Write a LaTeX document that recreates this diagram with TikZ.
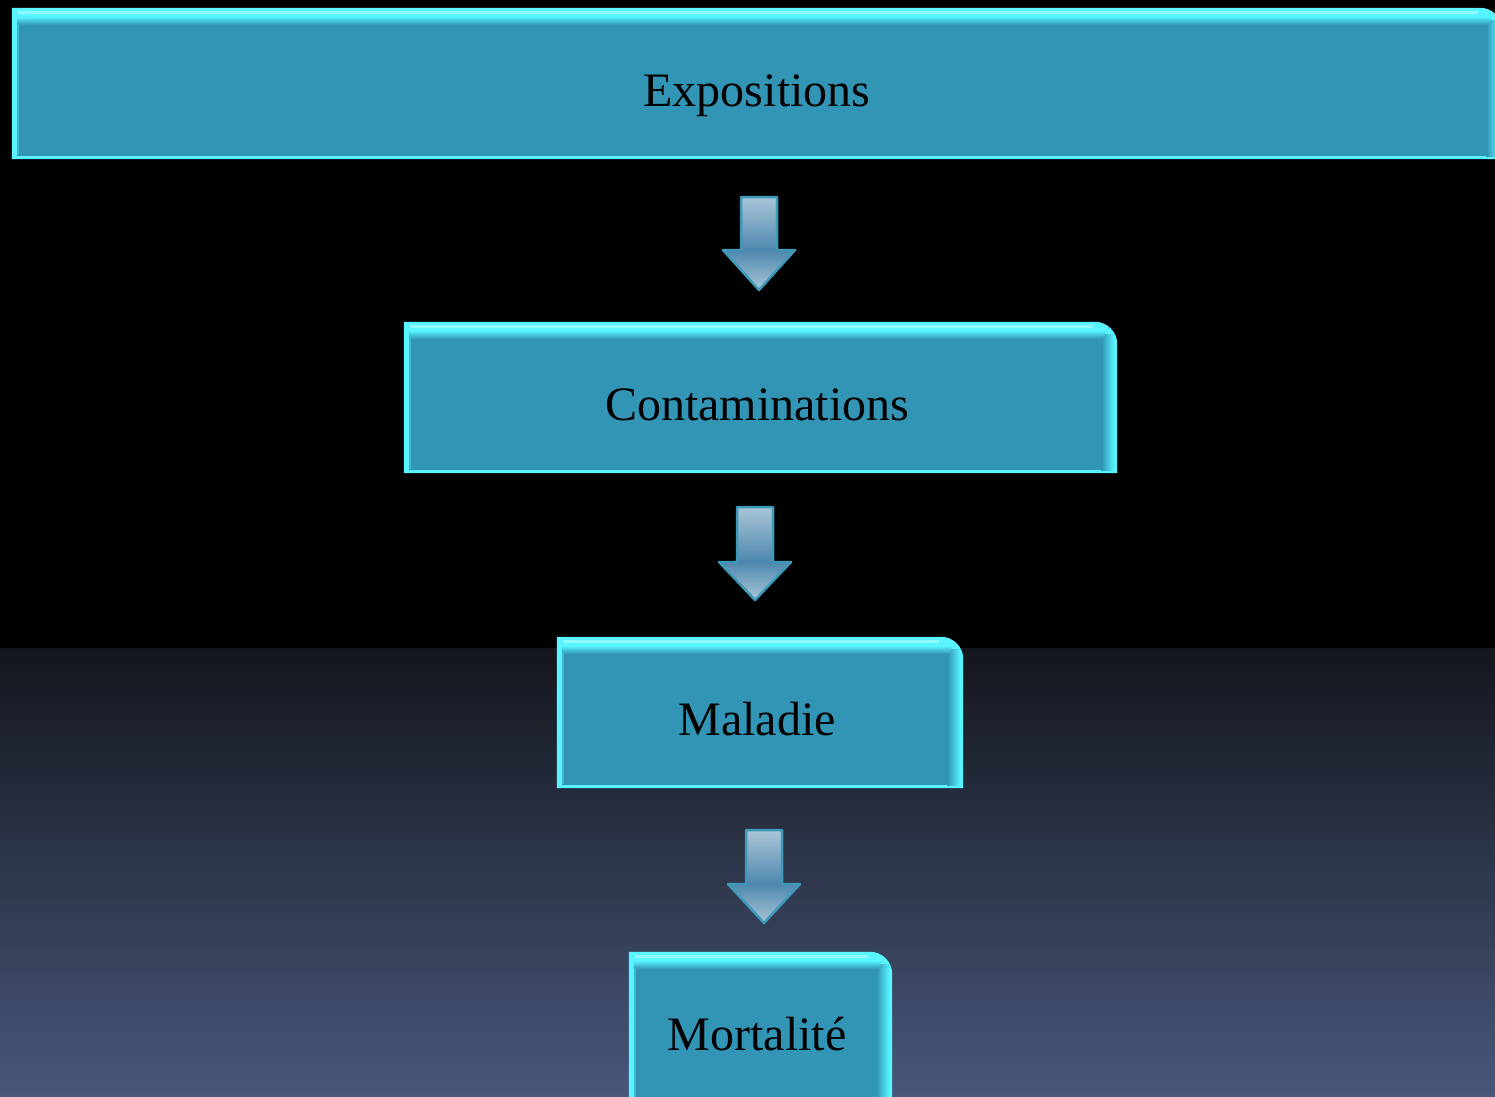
\documentclass[tikz,border=0pt]{standalone}
\usepackage{fontspec}
\setmainfont{Liberation Serif}
\definecolor{edgecyan}{HTML}{58F4FF}
\definecolor{hilite}{HTML}{A8FCFF}
\definecolor{bevelcyan}{HTML}{3FB6D4}
\definecolor{face}{HTML}{3295B5}
\definecolor{bgbottom}{HTML}{48577A}
\definecolor{bgtop}{HTML}{14161D}
\definecolor{arrowlight}{HTML}{A9C6D8}
\definecolor{arrowdark}{HTML}{4E88AE}
\definecolor{arrowline}{HTML}{3E98B8}
\pgfdeclarelayer{bg}
\pgfdeclarelayer{shapes}
\pgfsetlayers{bg,shapes,main}
\newcommand\glassbox[1]{%
  \fill[edgecyan] (#1.south west) -- (#1.north west) -- ([xshift=-22]#1.north east)
    .. controls ([xshift=-10]#1.north east) and ([yshift=-10]#1.north east)
    .. ([yshift=-22]#1.north east) -- (#1.south east) -- cycle;
  \draw[hilite, line width=3, opacity=0.7] ([xshift=6,yshift=-5]#1.north west) -- ([xshift=-24,yshift=-5]#1.north east);
  \shade[left color=face, right color=edgecyan]
    ([xshift=-16,yshift=-13]#1.north east) rectangle ([xshift=-3,yshift=3]#1.south east);
  \shade[top color=edgecyan, bottom color=face]
    ([xshift=5,yshift=-9]#1.north west) -- ([xshift=-10,yshift=-9]#1.north east)
    -- ([xshift=-14,yshift=-17]#1.north east) -- ([xshift=5,yshift=-17]#1.north west) -- cycle;
  \fill[face] ([xshift=5,yshift=3]#1.south west) -- ([xshift=5,yshift=-17]#1.north west)
    -- ([xshift=-14,yshift=-17]#1.north east) -- ([xshift=-14,yshift=3]#1.south east) -- cycle;
  \draw[bevelcyan, line width=1.5] ([xshift=6,yshift=4]#1.south west) -- ([xshift=6,yshift=-16]#1.north west);
}
\newcommand\blockarrow[4]{%
  \shade[top color=arrowlight, bottom color=arrowdark] (#1-18,#2) rectangle (#1+18,#3);
  \shade[top color=arrowdark, bottom color=arrowlight] (#1-36,#3) -- (#1+36,#3) -- (#1,#4) -- cycle;
  \draw[arrowline, line width=2.5, line join=round] (#1-18,#2) -- (#1+18,#2) -- (#1+18,#3)
    -- (#1+36,#3) -- (#1,#4) -- (#1-36,#3) -- (#1-18,#3) -- cycle;
}
\begin{document}
\begin{tikzpicture}[x=1pt,y=-1pt,
  box/.style={inner sep=0, minimum height=151},
  lbl/.style={anchor=base, inner sep=0, font=\fontsize{48}{58}\selectfont, text=black}]
\useasboundingbox (0,0) rectangle (1495,1096);
\clip (0,0) rectangle (1495,1096);
\begin{pgfonlayer}{bg}
  \fill[black] (0,0) rectangle (1495,1096);
  \shade[top color=bgtop, bottom color=bgbottom] (0,648) rectangle (1495,1096);
\end{pgfonlayer}

\node[box, minimum width=1490] (bE) at (757,83.5) {};
\node[box, minimum width=713] (bC) at (760.5,397.5) {};
\node[box, minimum width=406] (bM) at (760,712.5) {};
\node[box, minimum width=263] (bMo) at (760.5,1027.5) {};

\begin{pgfonlayer}{shapes}
  \glassbox{bE}
  \glassbox{bC}
  \glassbox{bM}
  \glassbox{bMo}
\end{pgfonlayer}

\node[lbl] (tE) at (757,106) {Expositions};
\node[lbl] (tC) at (757,420) {Contaminations};
\node[lbl] (tM) at (757,735) {Maladie};
\node[lbl] (tMo) at (757,1050) {Mortalité};

\blockarrow{759}{197}{250}{290}
\blockarrow{755}{507}{562}{600}
\blockarrow{764}{830}{884}{923}
\end{tikzpicture}
\end{document}
